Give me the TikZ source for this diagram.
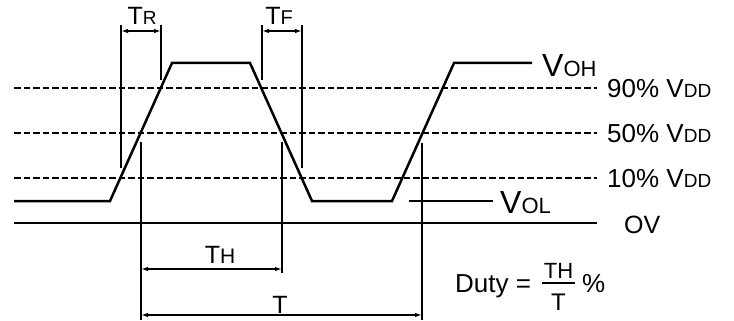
\documentclass[tikz,border=0pt]{standalone}
\usepackage{fontspec}
\setmainfont{Liberation Sans}
\usetikzlibrary{arrows.meta}
\newcommand\fsz[1]{\fontsize{#1}{#1}\selectfont}
\begin{document}
\begin{tikzpicture}[x=1pt,y=-1pt,
  wave/.style={line width=2.5pt, line join=miter},
  lvl/.style={line width=2.3pt, dash pattern=on 6.5pt off 3pt},
  guide/.style={line width=2.3pt},
  dim/.style={line width=1.8pt, {Latex[length=7pt,width=4.5pt]}-{Latex[length=7pt,width=4.5pt]}},
  lbl/.style={inner sep=0pt, anchor=base west},
  clbl/.style={inner sep=0pt, anchor=base},
]
\useasboundingbox (0,0) rectangle (734,321);
% waveform
\coordinate (w0) at (14,201);
\coordinate (w1) at (110,201);
\coordinate (w2) at (172,63);
\coordinate (w3) at (250,63);
\coordinate (w4) at (312,201);
\coordinate (w5) at (392,201);
\coordinate (w6) at (454,63);
\coordinate (w7) at (532,63);
\draw[wave] (w0) -- (w1) -- (w2) -- (w3) -- (w4) -- (w5) -- (w6) -- (w7);
\node[lbl] (voh) at (542,77) {\fsz{32}V\fsz{22}OH};
% VOL
\coordinate (volA) at (409,201);
\coordinate (volB) at (493,201);
\draw[guide] (volA) -- (volB);
\node[lbl] (vol) at (500,213) {\fsz{32}V\fsz{22}OL};
% level lines
\coordinate (d90a) at (14,88);  \coordinate (d90b) at (597,88);
\coordinate (d50a) at (14,133); \coordinate (d50b) at (597,133);
\coordinate (d10a) at (14,178); \coordinate (d10b) at (597,178);
\coordinate (z0a) at (14,223);  \coordinate (z0b) at (597,223);
\draw[lvl] (d90a) -- (d90b);
\draw[lvl] (d50a) -- (d50b);
\draw[lvl] (d10a) -- (d10b);
\draw[guide] (z0a) -- (z0b);
\node[lbl] (l90) at (607,97)  {\fsz{26}90\% V\fsz{19}DD};
\node[lbl] (l50) at (607,142) {\fsz{26}50\% V\fsz{19}DD};
\node[lbl] (l10) at (607,187) {\fsz{26}10\% V\fsz{19}DD};
\node[lbl] (l0)  at (624,233) {\fsz{25}OV};
% extension lines
\coordinate (trLa) at (121,25);  \coordinate (trLb) at (121,168);
\coordinate (trRa) at (161,25);  \coordinate (trRb) at (161,80);
\coordinate (tfLa) at (262,25);  \coordinate (tfLb) at (262,80);
\coordinate (tfRa) at (302,25);  \coordinate (tfRb) at (302,168);
\coordinate (tLa) at (141,142);  \coordinate (tLb) at (141,320);
\coordinate (thRa) at (282,142); \coordinate (thRb) at (282,273);
\coordinate (tRa) at (422,143);  \coordinate (tRb) at (422,320);
\foreach \a/\b in {trLa/trLb,trRa/trRb,tfLa/tfLb,tfRa/tfRb,tLa/tLb,thRa/thRb,tRa/tRb}
  \draw[guide] (\a) -- (\b);
% dimension arrows
\coordinate (trA) at (121,31); \coordinate (trB) at (161,31);
\coordinate (tfA) at (262,31); \coordinate (tfB) at (302,31);
\coordinate (thA) at (141,269); \coordinate (thB) at (282,269);
\coordinate (tA) at (141,315);  \coordinate (tB) at (422,315);
\draw[dim] (trA) -- (trB);
\draw[dim] (tfA) -- (tfB);
\draw[dim] (thA) -- (thB);
\draw[dim] (tA) -- (tB);
\node[clbl] (tr) at (142,25) {\fsz{25}T\fsz{19}R};
\node[clbl] (tf) at (279,25) {\fsz{25}T\fsz{20}F};
\node[clbl] (th) at (220,263) {\fsz{25}T\fsz{21}H};
\node[clbl] (tt) at (280,313) {\fsz{25}T};
% duty
\node[lbl] (duty) at (455,292) {\fsz{26}Duty =};
\node[clbl] (num) at (558.5,278) {\fsz{22}TH};
\coordinate (barA) at (542,283); \coordinate (barB) at (575,283);
\draw[line width=1.6pt] (barA) -- (barB);
\node[clbl] (den) at (558.5,310) {\fsz{24}T};
\node[lbl] (pct) at (582,292) {\fsz{26}\%};
\end{tikzpicture}
\end{document}
